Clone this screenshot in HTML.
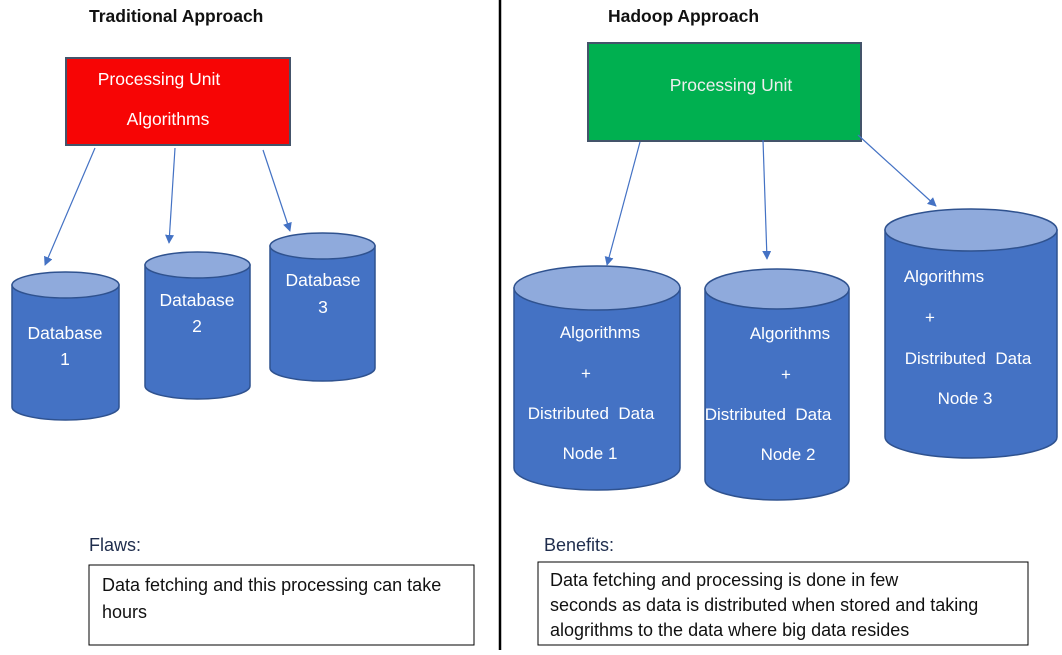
<!DOCTYPE html>
<html><head><meta charset="utf-8"><style>
body{margin:0;background:#fff;}
svg{display:block;font-family:"Liberation Sans",sans-serif;}
</style></head><body>
<svg width="1062" height="655" viewBox="0 0 1062 655" xmlns="http://www.w3.org/2000/svg">
<defs>
<marker id="a" viewBox="0 0 10 10" refX="9" refY="5" markerWidth="9" markerHeight="9" orient="auto" markerUnits="userSpaceOnUse">
<path d="M0,0 L10,5 L0,10 z" fill="#4472c4"/></marker>
</defs>
<rect width="1062" height="655" fill="#fff"/>
<line x1="500" y1="0" x2="500" y2="650" stroke="#000" stroke-width="2.5"/>
<text x="89" y="22" font-size="17.5" font-weight="bold" fill="#111">Traditional Approach</text>
<text x="608" y="22" font-size="17.5" font-weight="bold" fill="#111">Hadoop Approach</text>

<rect x="66" y="58" width="224" height="87" fill="#f70505" stroke="#44546a" stroke-width="2"/>
<text x="159" y="85" font-size="17.5" fill="#fff" text-anchor="middle">Processing Unit</text>
<text x="168" y="125" font-size="17.5" fill="#fff" text-anchor="middle">Algorithms</text>

<rect x="588" y="43" width="273" height="98" fill="#00b050" stroke="#44546a" stroke-width="2"/>
<text x="731" y="91" font-size="17.5" fill="#eee" text-anchor="middle">Processing Unit</text>

<g stroke="#4472c4" stroke-width="1.2" fill="none" marker-end="url(#a)">
<line x1="95" y1="148" x2="45" y2="265"/>
<line x1="175" y1="148" x2="169" y2="243"/>
<line x1="263" y1="150" x2="290" y2="231"/>
<line x1="640" y1="142" x2="607" y2="265"/>
<line x1="763" y1="140" x2="767" y2="259"/>
<line x1="858" y1="135" x2="936" y2="206"/>
</g>

<g stroke="#2f528f" stroke-width="1.5">
<path d="M12,285 V407 A53.5,13 0 0 0 119,407 V285 Z" fill="#4472c4"/>
<ellipse cx="65.5" cy="285" rx="53.5" ry="13" fill="#8faadc"/>
<path d="M145,265 V386 A52.5,13 0 0 0 250,386 V265 Z" fill="#4472c4"/>
<ellipse cx="197.5" cy="265" rx="52.5" ry="13" fill="#8faadc"/>
<path d="M270,246 V368 A52.5,13 0 0 0 375,368 V246 Z" fill="#4472c4"/>
<ellipse cx="322.5" cy="246" rx="52.5" ry="13" fill="#8faadc"/>

<path d="M514,288 V468 A83,22 0 0 0 680,468 V288 Z" fill="#4472c4"/>
<ellipse cx="597" cy="288" rx="83" ry="22" fill="#8faadc"/>
<path d="M705,289 V480 A72,20 0 0 0 849,480 V289 Z" fill="#4472c4"/>
<ellipse cx="777" cy="289" rx="72" ry="20" fill="#8faadc"/>
<path d="M885,230 V437 A86,21 0 0 0 1057,437 V230 Z" fill="#4472c4"/>
<ellipse cx="971" cy="230" rx="86" ry="21" fill="#8faadc"/>
</g>

<g fill="#fff" font-size="17.5" text-anchor="middle">
<text x="65" y="339">Database</text><text x="65" y="365">1</text>
<text x="197" y="306">Database</text><text x="197" y="332">2</text>
<text x="323" y="286">Database</text><text x="323" y="313">3</text>
</g>
<g fill="#fff" font-size="17" text-anchor="middle">
<text x="600" y="338">Algorithms</text><text x="586" y="379">+</text>
<text x="591" y="419">Distributed&#160; Data</text><text x="590" y="459">Node 1</text>
<text x="790" y="339">Algorithms</text><text x="786" y="380">+</text>
<text x="768" y="420">Distributed&#160; Data</text><text x="788" y="460">Node 2</text>
<text x="944" y="282">Algorithms</text><text x="930" y="323">+</text>
<text x="968" y="364">Distributed&#160; Data</text><text x="965" y="404">Node 3</text>
</g>

<text x="89" y="551" font-size="18" fill="#1f2d4d">Flaws:</text>
<rect x="89" y="565" width="385" height="80" fill="none" stroke="#000" stroke-width="1"/>
<text x="102" y="591" font-size="18" fill="#111">Data fetching and this processing can take</text>
<text x="102" y="618" font-size="18" fill="#111">hours</text>

<text x="544" y="551" font-size="18" fill="#1f2d4d">Benefits:</text>
<rect x="538" y="562" width="490" height="83" fill="none" stroke="#000" stroke-width="1"/>
<text x="550" y="586" font-size="18" fill="#111">Data fetching and processing is done in few</text>
<text x="550" y="611" font-size="18" fill="#111">seconds as data is distributed when stored and taking</text>
<text x="550" y="636" font-size="18" fill="#111">alogrithms to the data where big data resides</text>
</svg>
</body></html>
